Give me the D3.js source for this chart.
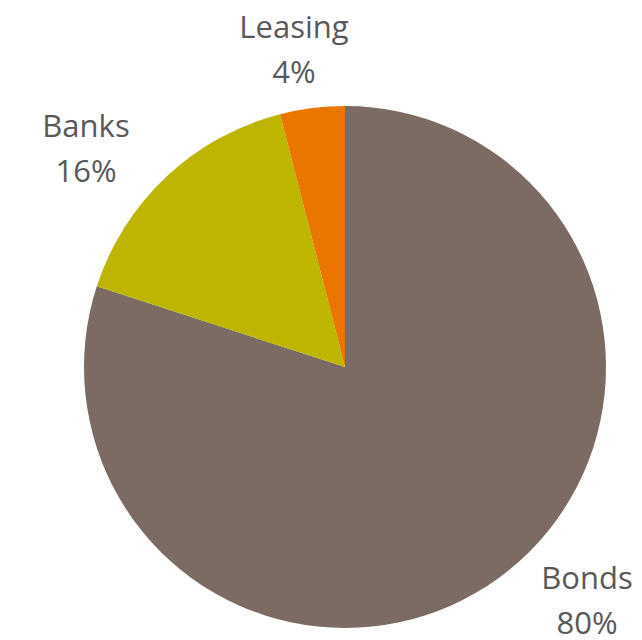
<!DOCTYPE html>
<html>
<head>
<meta charset="utf-8">
<script src="https://cdn.jsdelivr.net/npm/d3@7"></script>
<style>
  html, body { margin: 0; padding: 0; background: #fff; }
  svg { display: block; }
</style>
</head>
<body>
<svg id="chart" width="642" height="640"></svg>
<script>
const categories = ["Bonds", "Banks", "Leasing"];
const values = [80, 16, 4];
const colors = ["#7B6B62", "#BDB500", "#E97600"];

const svg = d3.select("#chart");
const cx = 345, cy = 367, radius = 261;

const pie = d3.pie().sort(null).value(d => d.value);
const arc = d3.arc().innerRadius(0).outerRadius(radius);
const data = categories.map((c, i) => ({ name: c, value: values[i], color: colors[i] }));
const arcs = pie(data);

const g = svg.append("g").attr("transform", `translate(${cx},${cy})`);
g.selectAll("path").data(arcs).enter().append("path")
  .attr("d", arc)
  .attr("fill", d => d.data.color);

// Label placement (best-fit style, outside the pie)
const labelPos = {
  Bonds: [587, 589],
  Banks: [86, 137],
  Leasing: [294, 38]
};
const total = d3.sum(values);
const labels = svg.append("g")
  .attr("font-family", "'Open Sans', 'Noto Sans', sans-serif")
  .attr("font-size", 31)
  .attr("fill", "#595959")
  .attr("text-anchor", "middle");
arcs.forEach(a => {
  const [x, y] = labelPos[a.data.name];
  const t = labels.append("text").attr("x", x).attr("y", y);
  t.append("tspan").attr("x", x).attr("y", y).text(a.data.name);
  t.append("tspan").attr("x", x).attr("y", y + 45)
    .text(Math.round(a.data.value / total * 100) + "%");
});
</script>
</body>
</html>
